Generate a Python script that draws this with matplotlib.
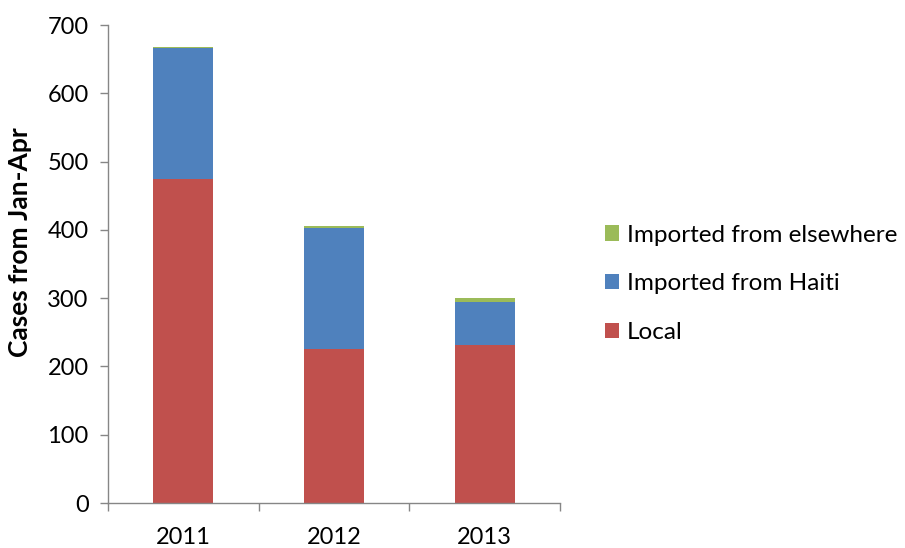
import matplotlib
matplotlib.use("Agg")
import matplotlib.pyplot as plt
import numpy as np

years = ["2011", "2012", "2013"]
local = [475, 226, 231]
haiti = [191, 177, 64]
elsewhere = [2, 3, 5]

plt.rcParams['font.family'] = ['Lato', 'DejaVu Sans']

fig = plt.figure(figsize=(9.05, 5.48), dpi=100)
ax = fig.add_axes([108/905, 1-503/548, (560-108)/905, (503-25)/548])

x = np.arange(len(years))
w = 0.4
c_local, c_haiti, c_else = "#C0504D", "#4F81BD", "#9BBB59"
b1 = ax.bar(x, local, w, color=c_local, label="Local")
b2 = ax.bar(x, haiti, w, bottom=local, color=c_haiti, label="Imported from Haiti")
bot = np.array(local) + np.array(haiti)
b3 = ax.bar(x, elsewhere, w, bottom=bot, color=c_else, label="Imported from elsewhere")

ax.set_xlim(-0.5, 2.5)
ax.set_ylim(0, 700)
ax.set_yticks(range(0, 701, 100))
ax.set_xticks(x)
ax.set_xticklabels(years)
ax.set_xticks([-0.5, 0.5, 1.5, 2.5], minor=True)
ax.tick_params(axis='x', which='major', length=0, pad=17, labelsize=17)
ax.tick_params(axis='x', which='minor', length=6, color="#868686", width=1)
ax.tick_params(axis='y', length=6, color="#868686", width=1, labelsize=17, pad=8)
for s in ["top", "right"]:
    ax.spines[s].set_visible(False)
for s in ["left", "bottom"]:
    ax.spines[s].set_color("#868686")
    ax.spines[s].set_linewidth(1)

ax.set_ylabel("Cases from Jan-Apr", fontsize=19, fontweight='bold', va='center')
ax.yaxis.set_label_coords(-0.195, 0.546)

handles = [b3, b2, b1]
fig.legend(handles, [h.get_label() for h in handles], loc='center left',
           bbox_to_anchor=(583/905, 1-284/548), frameon=False, fontsize=17.5,
           handlelength=0.58, handleheight=0.58, handletextpad=0.33, labelspacing=1.15)

fig.savefig("out.png", dpi=100)
